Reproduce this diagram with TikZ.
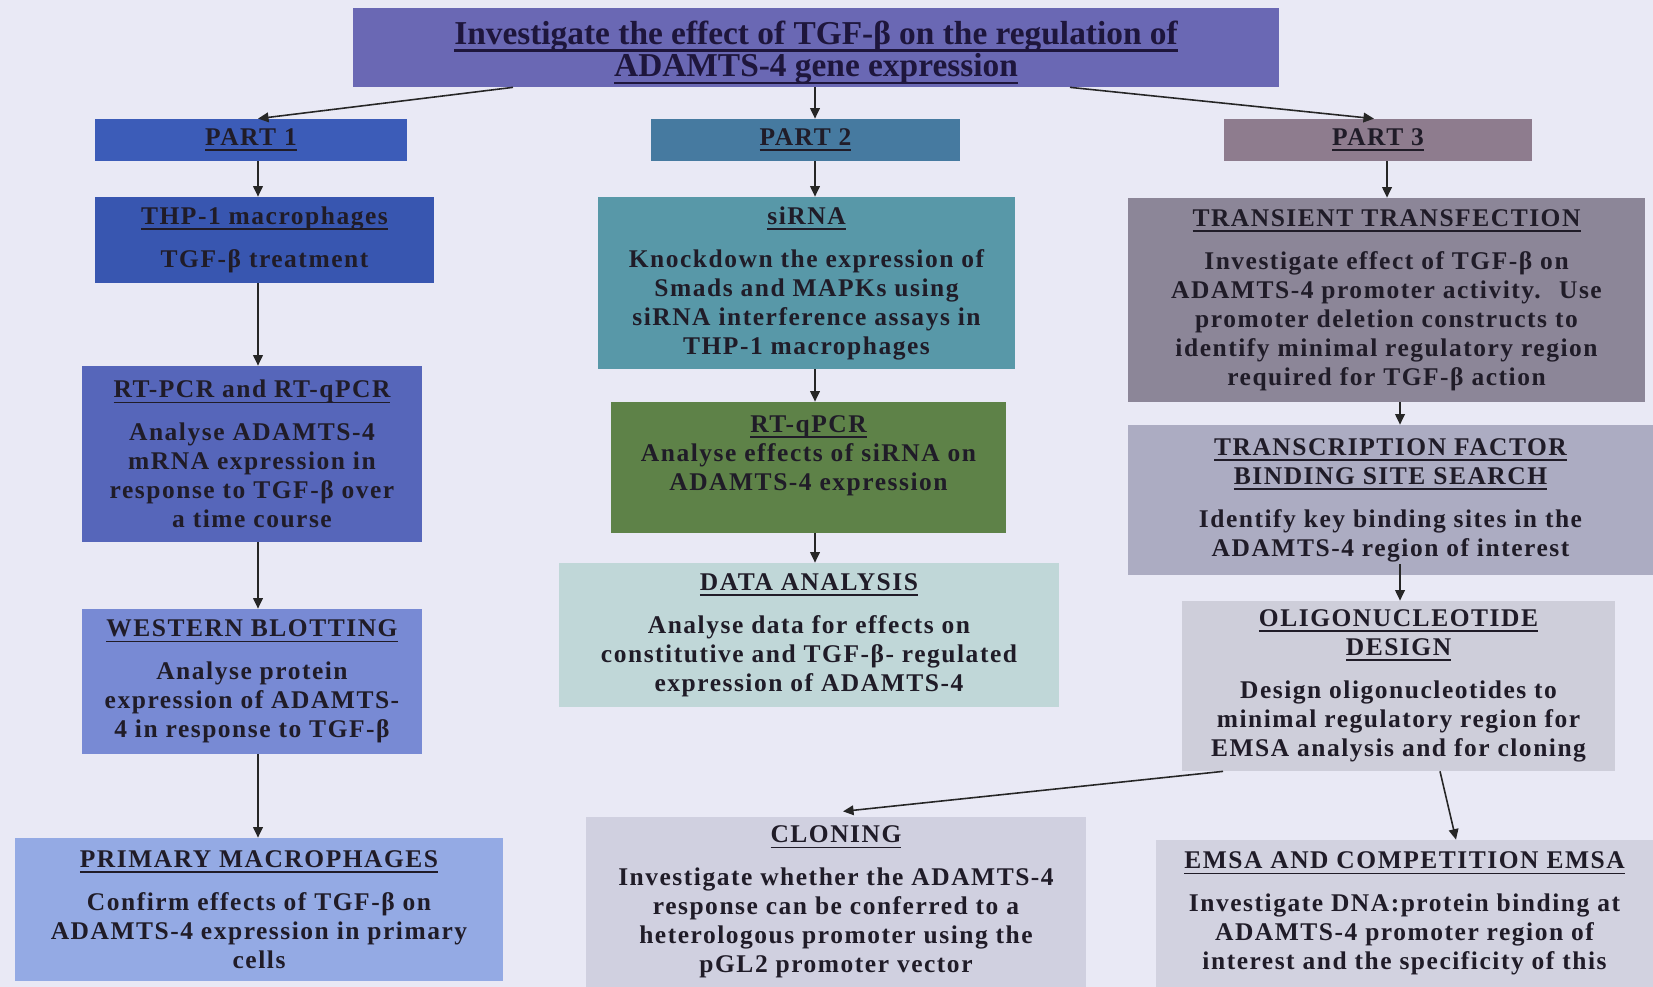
\documentclass[tikz,border=0pt]{standalone}
\usepackage{fontspec}
\setmainfont{Liberation Serif}
\newfontfamily\bodyf{Liberation Serif}[LetterSpace=6]
\newfontfamily\titlef{Liberation Serif}
\usetikzlibrary{arrows.meta}

% palette
\definecolor{bg}{RGB}{233,233,245}
\definecolor{ink}{RGB}{32,28,40}
\definecolor{tink}{RGB}{30,22,60}
\definecolor{cTitle}{RGB}{106,104,180}
\definecolor{cPa}{RGB}{60,92,184}
\definecolor{cPb}{RGB}{70,122,160}
\definecolor{cPc}{RGB}{142,124,142}
\definecolor{cTHP}{RGB}{56,86,176}
\definecolor{cRT}{RGB}{86,102,186}
\definecolor{cWB}{RGB}{120,138,212}
\definecolor{cPM}{RGB}{148,170,228}
\definecolor{cSi}{RGB}{88,152,168}
\definecolor{cQ}{RGB}{94,130,72}
\definecolor{cDA}{RGB}{192,215,216}
\definecolor{cTT}{RGB}{140,134,152}
\definecolor{cTF}{RGB}{172,172,194}
\definecolor{cOD}{RGB}{206,206,218}
\definecolor{cCl}{RGB}{208,208,224}
\definecolor{cEM}{RGB}{210,210,224}

% heading underline: a heavier rule set at a fixed depth
\newcommand\hl[1]{\setbox0\hbox{#1}\leavevmode\rlap{\rule[-3.2pt]{\wd0}{1pt}}\box0}
\newcommand\thl[1]{\setbox0\hbox{#1}\leavevmode\rlap{\rule[-4.2pt]{\wd0}{1.3pt}}\box0}

\tikzset{
  box/.style={rectangle, inner sep=0pt, align=center, text=ink,
    font={\bodyf\bfseries\fontsize{14.5}{16.5}\selectfont}},
  sz/.style 2 args={minimum width=#1*0.02cm, minimum height=#2*0.02cm},
  arr/.style={draw=black!85, line width=0.9pt, -{Triangle[length=6pt,width=5.5pt]}},
  ttl/.style={text=tink, font={\titlef\bfseries\fontsize{19}{18.5}\selectfont}}
}

\begin{document}
\begin{tikzpicture}[x=0.02cm,y=-0.02cm]
\fill[bg] (0,0) rectangle (1653,987);
\useasboundingbox (0,0) rectangle (1653,987);

% title and the three parts
\node[box, ttl, fill=cTitle, sz={926}{79}] (title) at (816,47.5)
  {\rule{0pt}{19pt}\thl{Investigate the effect of TGF-β on the regulation of}\\ \thl{ADAMTS-4 gene expression}};
\node[box, fill=cPa, sz={312}{42}] (part1) at (251,140) {\hl{PART 1}};
\node[box, fill=cPb, sz={309}{42}] (part2) at (805.5,140) {\hl{PART 2}};
\node[box, fill=cPc, sz={308}{42}] (part3) at (1378,140) {\hl{PART 3}};

% part 1 column
\node[box, fill=cTHP, sz={339}{86}] (thp) at (264.5,240)
  {\hl{THP-1 macrophages}\\[8pt] TGF-β treatment};
\node[box, fill=cRT, sz={340}{176}] (rtpcr) at (252,454)
  {\hl{RT-PCR and RT-qPCR}\\[8pt] Analyse ADAMTS-4\\ mRNA expression in\\ response to TGF-β over\\ a time course};
\node[box, fill=cWB, sz={340}{145}] (wb) at (252,681.5)
  {\hl{WESTERN BLOTTING}\\[8pt] Analyse protein\\ expression of ADAMTS-\\ 4 in response to TGF-β};
\node[box, fill=cPM, sz={488}{143}] (pm) at (259,909.5)
  {\hl{PRIMARY MACROPHAGES}\\[8pt] Confirm effects of TGF-β on\\ ADAMTS-4 expression in primary\\ cells};

% part 2 column
\node[box, fill=cSi, sz={417}{172}] (sirna) at (806.5,283)
  {\hl{siRNA}\\[8pt] Knockdown the expression of\\ Smads and MAPKs using\\ siRNA interference assays in\\ THP-1 macrophages};
\node[box, fill=cQ, sz={395}{131}] (rtq) at (808.5,467.5)
  {\hl{RT-qPCR}\\ Analyse effects of siRNA on\\ ADAMTS-4 expression\\ \mbox{}};
\node[box, fill=cDA, sz={500}{144}] (data) at (809,635)
  {\hl{DATA ANALYSIS}\\[8pt] Analyse data for effects on\\ constitutive and TGF-β- regulated\\ expression of ADAMTS-4};

% part 3 column
\node[box, fill=cTT, sz={517}{204}] (tt) at (1386.5,300)
  {\hl{TRANSIENT TRANSFECTION}\\[8pt] Investigate effect of TGF-β on\\ ADAMTS-4 promoter activity.~ Use\\ promoter deletion constructs to\\ identify minimal regulatory region\\ required for TGF-β action};
\node[box, fill=cTF, sz={525}{150}] (tf) at (1390.5,500)
  {\hl{TRANSCRIPTION FACTOR}\\ \hl{BINDING SITE SEARCH}\\[8pt] Identify key binding sites in the\\ ADAMTS-4 region of interest};
\node[box, fill=cOD, sz={433}{170}] (od) at (1398.5,686)
  {\hl{OLIGONUCLEOTIDE}\\ \hl{DESIGN}\\[8pt] Design oligonucleotides to\\ minimal regulatory region for\\ EMSA analysis and for cloning};
\node[box, fill=cCl, sz={500}{170}] (cl) at (836,902)
  {\hl{CLONING}\\[8pt] Investigate whether the ADAMTS-4\\ response can be conferred to a\\ heterologous promoter using the\\ pGL2 promoter vector};
\node[box, fill=cEM, sz={497}{147}] (em) at (1404.5,913.5)
  {\hl{EMSA AND COMPETITION EMSA}\\[8pt] Investigate DNA:protein binding at\\ ADAMTS-4 promoter region of\\ interest and the specificity of this};

% x positions of the connectors
\coordinate (xa) at (513,0);
\coordinate (xb) at (258,0);
\coordinate (xc) at (815,0);
\coordinate (xd) at (1070,0);
\coordinate (xe) at (1374,0);
\coordinate (xf) at (1387,0);
\coordinate (xg) at (1400,0);
\coordinate (xh) at (1223,0);
\coordinate (xi) at (843,0);
\coordinate (xj) at (1440,0);
\coordinate (xk) at (1456,0);

% connectors
\draw[arr] (title.south -| xa) -- (part1.north -| xb);
\draw[arr] (title.south -| xc) -- (part2.north -| xc);
\draw[arr] (title.south -| xd) -- (part3.north -| xe);

\draw[arr] (part1.south -| xb) -- (thp.north -| xb);
\draw[arr] (thp.south -| xb) -- (rtpcr.north -| xb);
\draw[arr] (rtpcr.south -| xb) -- (wb.north -| xb);
\draw[arr] (wb.south -| xb) -- (pm.north -| xb);

\draw[arr] (part2.south -| xc) -- (sirna.north -| xc);
\draw[arr] (sirna.south -| xc) -- (rtq.north -| xc);
\draw[arr] (rtq.south -| xc) -- (data.north -| xc);

\draw[arr] (part3.south -| xf) -- (tt.north -| xf);
\draw[arr] (tt.south -| xg) -- (tf.north -| xg);
\draw[arr] (tf.south -| xg) ++(0,-11) -- (od.north -| xg);
\draw[arr] (od.south -| xh) -- ([yshift=3pt]cl.north -| xi);
\draw[arr] (od.south -| xj) -- (em.north -| xk);
\end{tikzpicture}
\end{document}
